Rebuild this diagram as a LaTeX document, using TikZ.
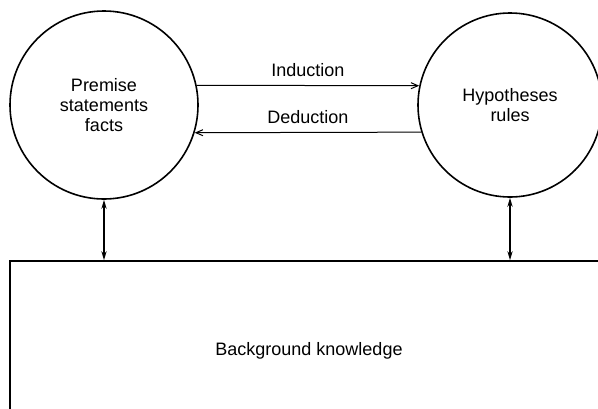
\documentclass[tikz,border=0pt]{standalone}
\usepackage{fontspec}
\setmainfont{Liberation Sans}
\usetikzlibrary{arrows.meta}
\begin{document}
\begin{tikzpicture}[
    x=0.5pt, y=-0.5pt,
    every node/.style={align=center, font=\fontsize{9}{10}\selectfont},
    concept/.style={circle, draw, line width=0.8pt, inner sep=0pt},
    store/.style={rectangle, draw, line width=0.8pt, minimum width=299pt, minimum height=90pt},
    flow/.style={-{Straight Barb[length=3.5pt,width=3pt]}, line width=0.5pt},
    link/.style={{Stealth[length=4.5pt,width=2.6pt]}-{Stealth[length=4.5pt,width=2.6pt]}, line width=0.9pt}
]
    \useasboundingbox (0,0) rectangle (598,408);
    \clip (0,0) rectangle (598,408);

    % Circles
    \node[concept, minimum size=94pt] (premise) at (104,105) {Premise\\statements\\facts};
    \node[concept, minimum size=92pt] (hypotheses) at (510,105) {Hypotheses\\rules};

    % Knowledge box
    \node[store] (background) at (309,351) {Background knowledge};

    % Connections
    \draw[flow] (premise.12) -- node[above=1pt] {Induction} (hypotheses.168);
    \draw[flow] (hypotheses.197) -- node[above=1pt] {Deduction} (premise.-17);
    \draw[link] (premise.south) -- (premise.south |- background.north);
    \draw[link] (hypotheses.south) -- (hypotheses.south |- background.north);
\end{tikzpicture}
\end{document}
